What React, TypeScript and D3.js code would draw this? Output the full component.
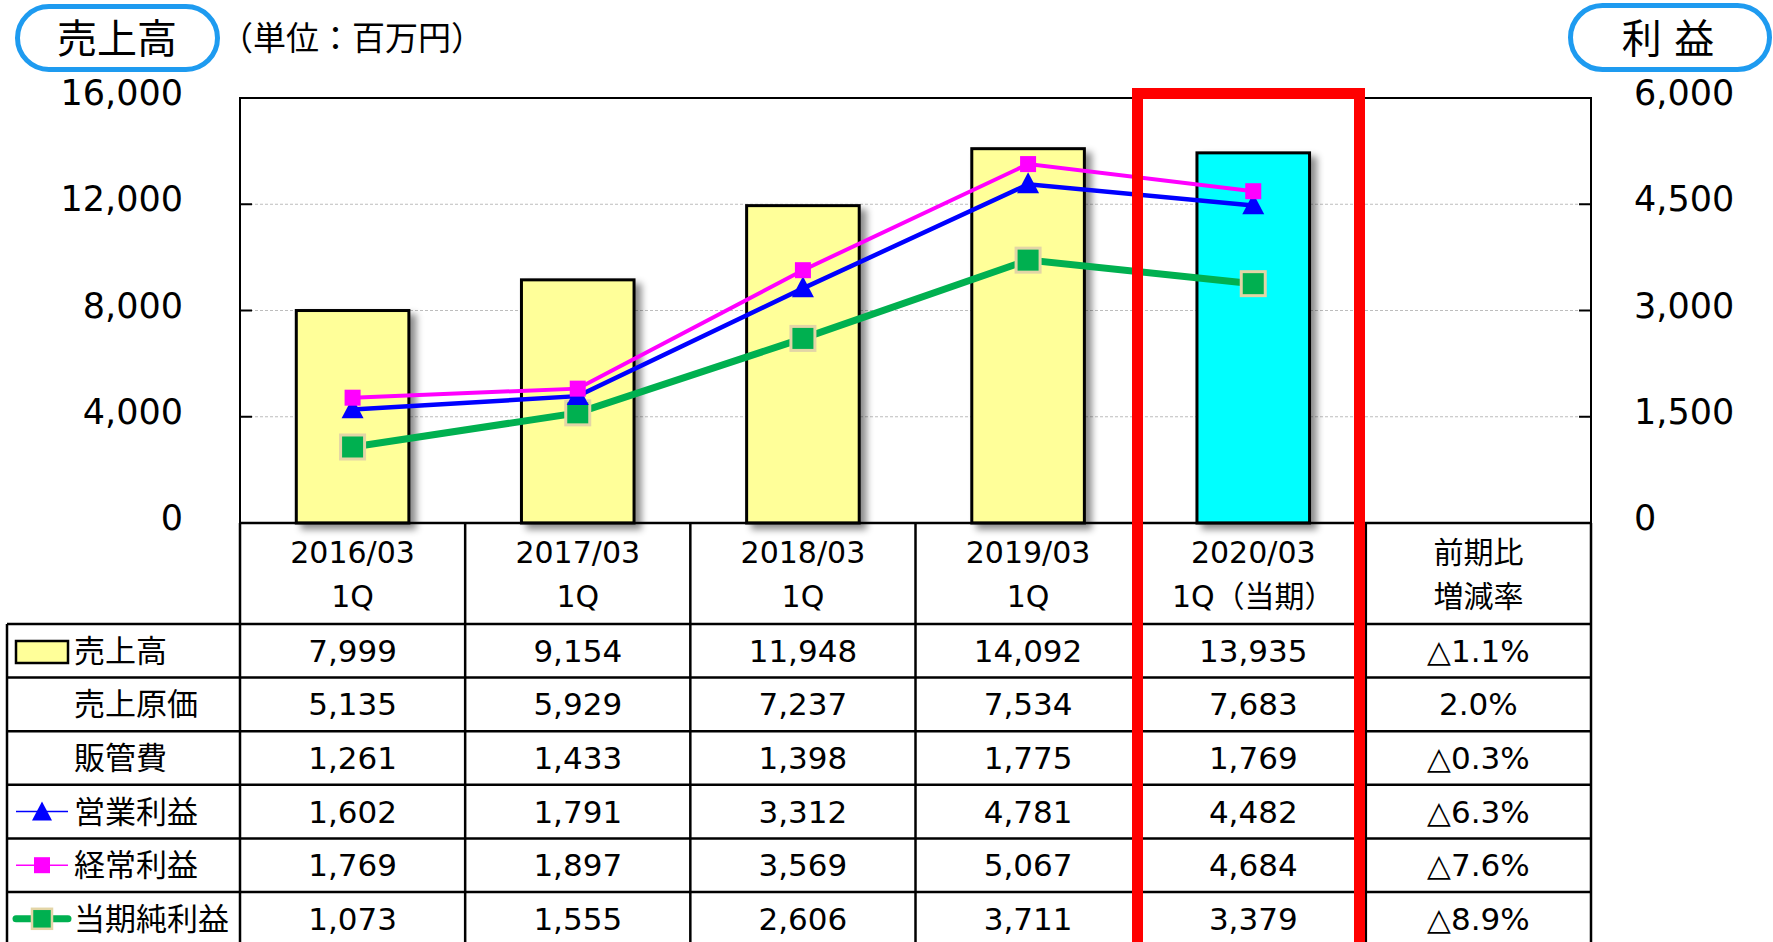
import React from 'react';
import * as d3 from 'd3';

const categories = ['2016/03', '2017/03', '2018/03', '2019/03', '2020/03'];
const subLabels = ['1Q', '1Q', '1Q', '1Q', '1Q（当期）'];
const sales = [7999, 9154, 11948, 14092, 13935];
const costOfSales = [5135, 5929, 7237, 7534, 7683];
const sgaExpenses = [1261, 1433, 1398, 1775, 1769];
const operatingProfit = [1602, 1791, 3312, 4781, 4482];
const ordinaryProfit = [1769, 1897, 3569, 5067, 4684];
const netProfit = [1073, 1555, 2606, 3711, 3379];
const changeRates = ['△1.1%', '2.0%', '△0.3%', '△6.3%', '△7.6%', '△8.9%'];
const leftTicks = [0, 4000, 8000, 12000, 16000];
const rightTicks = [0, 1500, 3000, 4500, 6000];
const rowLabels = ['売上高', '売上原価', '販管費', '営業利益', '経常利益', '当期純利益'];

const FONT = '"DejaVu Sans", "Noto Sans CJK JP", sans-serif';

export default function App() {
  const W = 1773, H = 942;
  const plot = { left: 240, right: 1591, top: 98, bottom: 523 };
  const rowH = 53.6;
  const headerBottom = 624;

  const x = d3.scaleBand<string>()
    .domain([...categories, 'chg'])
    .range([plot.left, plot.right])
    .paddingInner(0).paddingOuter(0);
  const yL = d3.scaleLinear().domain([0, 16000]).range([plot.bottom, plot.top]);
  const yR = d3.scaleLinear().domain([0, 6000]).range([plot.bottom, plot.top]);
  const bw = x.bandwidth();
  const cx = (c: string) => (x(c) as number) + bw / 2;

  const line = (vals: number[]) =>
    d3.line<number>().x((_, i) => cx(categories[i])).y(v => yR(v))(vals) as string;

  const tri = (px: number, py: number, s: number) =>
    `M${px},${py - s * 0.55}L${px + s / 2},${py + s * 0.4}L${px - s / 2},${py + s * 0.4}Z`;

  const rows = [sales, costOfSales, sgaExpenses, operatingProfit, ordinaryProfit, netProfit];
  const fmt = d3.format(',');
  const rowTop = (i: number) => headerBottom + i * rowH;
  const colEdges = [...categories, 'chg'].map(c => x(c) as number).concat([plot.right]);

  return (
    <svg width={W} height={H} style={{ position: 'absolute', left: 0, top: 0, display: 'block', background: '#fff' }}
      fontFamily={FONT}>
      <defs>
        <filter id="shadow" x="-20%" y="-10%" width="150%" height="130%">
          <feDropShadow dx="6" dy="5" stdDeviation="3.5" floodColor="#000" floodOpacity="0.45" />
        </filter>
      </defs>

      {/* badges */}
      <rect x={17.5} y={6.5} width={200} height={63} rx={31.5} fill="#fff" stroke="#1E9BF0" strokeWidth={5} />
      <text x={117} y={39} fontSize={40} textAnchor="middle" dominantBaseline="central">売上高</text>
      <text x={220} y={38} fontSize={33} dominantBaseline="central">（単位：百万円）</text>
      <rect x={1570.5} y={5.5} width={199} height={64} rx={32} fill="#fff" stroke="#1E9BF0" strokeWidth={5} />
      <text x={1668} y={39} fontSize={40} textAnchor="middle" dominantBaseline="central">利 益</text>

      {/* gridlines */}
      {leftTicks.filter(t => t > 0 && t < 16000).map(t => (
        <line key={t} x1={plot.left} x2={plot.right} y1={yL(t)} y2={yL(t)} stroke="#bdbdbd" strokeWidth={1} strokeDasharray="3,2" />
      ))}

      {/* axis ticks and labels */}
      {leftTicks.map(t => (
        <g key={'l' + t}>
          <line x1={plot.left} x2={plot.left + 12} y1={yL(t)} y2={yL(t)} stroke="#000" strokeWidth={2} />
          <text x={183} y={yL(t) + 7} fontSize={35} textAnchor="end">{fmt(t)}</text>
        </g>
      ))}
      {rightTicks.map(t => (
        <g key={'r' + t}>
          <line x1={plot.right - 12} x2={plot.right} y1={yR(t)} y2={yR(t)} stroke="#000" strokeWidth={2} />
          <text x={1634} y={yR(t) + 7} fontSize={35} textAnchor="start">{fmt(t)}</text>
        </g>
      ))}

      {/* bars */}
      {sales.map((v, i) => (
        <rect key={i} x={cx(categories[i]) - bw * 0.25} y={yL(v)} width={bw * 0.5} height={plot.bottom - yL(v)}
          fill={i === 4 ? '#00FFFF' : '#FFFF99'} stroke="#000" strokeWidth={3} filter="url(#shadow)" />
      ))}

      {/* plot frame */}
      <path d={`M${plot.left},${plot.bottom}V${plot.top}H${plot.right}V${plot.bottom}`} fill="none" stroke="#000" strokeWidth={2} />

      {/* lines */}
      <path d={line(netProfit)} fill="none" stroke="#00B050" strokeWidth={7} />
      <path d={line(operatingProfit)} fill="none" stroke="#0000FF" strokeWidth={4.5} />
      <path d={line(ordinaryProfit)} fill="none" stroke="#FF00FF" strokeWidth={4} />
      {netProfit.map((v, i) => (
        <rect key={'n' + i} x={cx(categories[i]) - 12} y={yR(v) - 12} width={24} height={24} fill="#00B050" stroke="#E3D5A6" strokeWidth={3} />
      ))}
      {operatingProfit.map((v, i) => (
        <path key={'o' + i} d={tri(cx(categories[i]), yR(v), 22)} fill="#0000FF" />
      ))}
      {ordinaryProfit.map((v, i) => (
        <rect key={'r' + i} x={cx(categories[i]) - 8} y={yR(v) - 8} width={16} height={16} fill="#FF00FF" />
      ))}

      {/* table header */}
      {categories.map((c, i) => (
        <g key={c}>
          <text x={cx(c)} y={552} fontSize={30} textAnchor="middle" dominantBaseline="central">{c}</text>
          <text x={cx(c)} y={596} fontSize={30} textAnchor="middle" dominantBaseline="central">{subLabels[i]}</text>
        </g>
      ))}
      <text x={cx('chg')} y={552} fontSize={30} textAnchor="middle" dominantBaseline="central">前期比</text>
      <text x={cx('chg')} y={596} fontSize={30} textAnchor="middle" dominantBaseline="central">増減率</text>

      {/* table body */}
      {rows.map((vals, r) => (
        <g key={'row' + r}>
          <text x={74} y={rowTop(r) + rowH / 2} fontSize={31} dominantBaseline="central">{rowLabels[r]}</text>
          {vals.map((v, i) => (
            <text key={i} x={cx(categories[i])} y={rowTop(r) + rowH / 2} fontSize={31} textAnchor="middle" dominantBaseline="central">{fmt(v)}</text>
          ))}
          <text x={cx('chg')} y={rowTop(r) + rowH / 2} fontSize={31} textAnchor="middle" dominantBaseline="central">{changeRates[r]}</text>
        </g>
      ))}

      {/* legend keys */}
      <rect x={16} y={rowTop(0) + 17} width={52} height={22} fill="#FFFF99" stroke="#000" strokeWidth={2.5} />
      <line x1={16} x2={68} y1={rowTop(3) + rowH / 2} y2={rowTop(3) + rowH / 2} stroke="#0000FF" strokeWidth={1.5} />
      <path d={tri(42, rowTop(3) + rowH / 2 + 1, 20)} fill="#0000FF" />
      <line x1={16} x2={68} y1={rowTop(4) + rowH / 2} y2={rowTop(4) + rowH / 2} stroke="#FF00FF" strokeWidth={1.5} />
      <rect x={34} y={rowTop(4) + rowH / 2 - 8} width={16} height={16} fill="#FF00FF" />
      <line x1={16} x2={68} y1={rowTop(5) + rowH / 2} y2={rowTop(5) + rowH / 2} stroke="#00B050" strokeWidth={7} strokeLinecap="round" />
      <rect x={32} y={rowTop(5) + rowH / 2 - 10} width={20} height={20} fill="#00B050" stroke="#E3D5A6" strokeWidth={2.5} />

      {/* table grid */}
      {colEdges.map((xe, i) => (
        <line key={'v' + i} x1={xe} x2={xe} y1={plot.bottom} y2={H + 10} stroke="#000" strokeWidth={2.5} />
      ))}
      <line x1={7} x2={7} y1={headerBottom} y2={H + 10} stroke="#000" strokeWidth={2.5} />
      <line x1={plot.left} x2={plot.right} y1={plot.bottom} y2={plot.bottom} stroke="#000" strokeWidth={2.5} />
      {d3.range(0, 6).map(r => (
        <line key={'h' + r} x1={7} x2={plot.right} y1={rowTop(r)} y2={rowTop(r)} stroke="#000" strokeWidth={2.5} />
      ))}

      {/* highlight box */}
      <rect x={1137.5} y={93.5} width={222} height={H + 40} fill="none" stroke="#FF0000" strokeWidth={11} />
    </svg>
  );
}
